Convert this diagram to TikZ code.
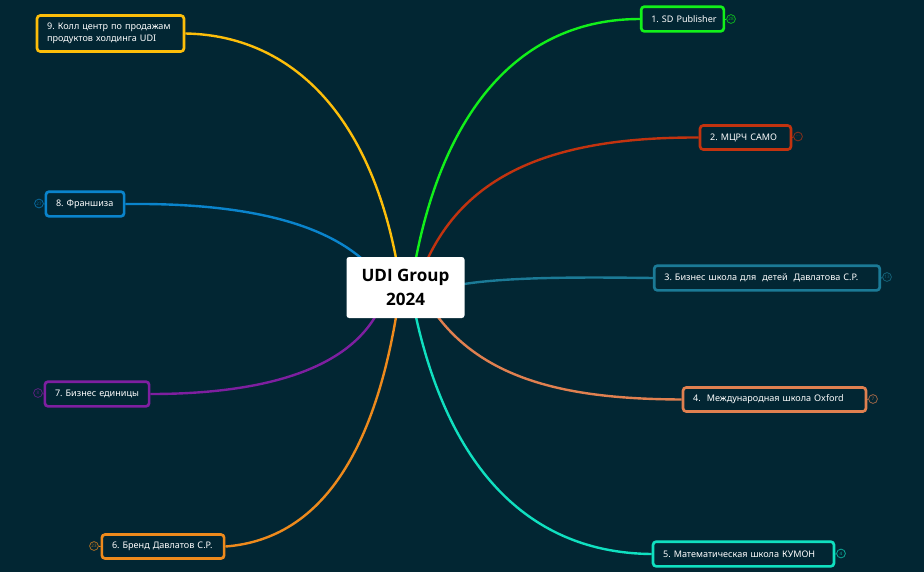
\documentclass[tikz,border=0pt]{standalone}
\usepackage{fontspec}
\setmainfont{Noto Sans}
\newfontfamily\rootfont{Open Sans}
\frenchspacing
\definecolor{bg}{HTML}{022633}
\definecolor{cA}{HTML}{12F01A}
\definecolor{cB}{HTML}{C2330F}
\definecolor{cC}{HTML}{1B7A96}
\definecolor{cD}{HTML}{E08050}
\definecolor{cE}{HTML}{10E0C0}
\definecolor{cF}{HTML}{EE8A1C}
\definecolor{cG}{HTML}{7E1FA0}
\definecolor{cH}{HTML}{0A84CC}
\definecolor{cI}{HTML}{FDBE0A}
\tikzset{
  branch/.style={draw=#1,line width=2pt,rounded corners=2.4pt,fill=bg,text=white,font=\fontsize{6.8}{9.4}\selectfont\frenchspacing,inner xsep=7.6pt,inner ysep=0pt,align=left,anchor=center},
  link/.style={draw=#1,line width=1.8pt},
  badge/.style={draw=#1!70!bg,circle,line width=0.6pt,minimum size=6.6pt,inner sep=0pt,text=#1!70!bg,font=\fontsize{3.4}{3.4}\selectfont},
  stub/.style={draw=#1,line width=0.7pt},
  rootbox/.style={fill=white,rounded corners=2pt,minimum width=88.5pt,minimum height=45.75pt,inner sep=0pt,align=center,text=black,font=\rootfont\fontsize{12.8}{18}\selectfont\bfseries}
}
\begin{document}
\begin{tikzpicture}[x=0.75pt,y=-0.75pt]
\fill[bg] (0,0) rectangle (924,572);
\useasboundingbox (0,0) rectangle (924,572);
% nodes
\node[branch=cA,text width=46.8pt,minimum height=18.5pt] (n1) at (682.5,19) {\mbox{1. SD Publisher}};
\node[branch=cB,text width=53pt,minimum height=18pt] (n2) at (745.5,137.5) {\mbox{2. МЦРЧ САМО}};
\node[branch=cC,text width=154pt,minimum height=18.5pt] (n3) at (767,278) {\mbox{3. Бизнес школа для\ \ детей\ \ Давлатова С.Р.}};
\node[branch=cD,text width=122pt,minimum height=18pt] (n4) at (774.5,399.5) {\mbox{4.\ \ Международная школа Oxford}};
\node[branch=cE,text width=120.5pt,minimum height=18.5pt] (n5) at (743.5,554) {\mbox{5. Математическая школа КУМОН}};
\node[branch=cF,text width=76.5pt,minimum height=18pt] (n6) at (163,546.5) {\mbox{6. Бренд Давлатов С.Р.}};
\node[branch=cG,text width=63pt,minimum height=18.5pt] (n7) at (97,394) {\mbox{7. Бизнес единицы}};
\node[branch=cH,text width=43.5pt,minimum height=18.5pt] (n8) at (85,204) {\mbox{8. Франшиза}};
\node[branch=cI,text width=95pt,minimum height=27pt] (n9) at (110.5,33.5) {\mbox{9. Колл центр по продажам}\\\mbox{продуктов холдинга UDI}};
% badges
\node[badge=cA] (b1) at (731,19) {28};
\node[badge=cB] (b2) at (798,136.5) {...};
\node[badge=cC] (b3) at (887,277) {13};
\node[badge=cD] (b4) at (873,399) {7};
\node[badge=cE] (b5) at (841,553.5) {4};
\node[badge=cF] (b6) at (94,546) {23};
\node[badge=cG] (b7) at (38,393) {8};
\node[badge=cH] (b8) at (39,203.5) {27};
% root anchor points
\coordinate (r1) at (416,258);
\coordinate (r2) at (428,258);
\coordinate (r3) at (464,284);
\coordinate (r4) at (438,317);
\coordinate (r5) at (416,317);
\coordinate (r6) at (396,317);
\coordinate (r7) at (375,317);
\coordinate (r8) at (361,258);
\coordinate (r9) at (396,258);
% connectors
\draw[link=cA] (r1) .. controls (445,110) and (520,19) .. (n1.west);
\draw[link=cB] (r2) .. controls (470,170) and (560,137) .. (n2.west);
\draw[link=cC] (r3) .. controls (510,277) and (580,277) .. (n3.west);
\draw[link=cD] (r4) .. controls (490,385) and (580,399) .. (n4.west);
\draw[link=cE] (r5) .. controls (450,470) and (530,553) .. (n5.west);
\draw[link=cF] (r6) .. controls (370,470) and (310,540) .. (n6.east);
\draw[link=cG] (r7) .. controls (340,375) and (250,394) .. (n7.east);
\draw[link=cH] (r8) .. controls (310,215) and (220,203) .. (n8.east);
\draw[link=cI] (r9) .. controls (365,100) and (280,35) .. (n9.east);
\draw[stub=cA] (n1.east) -- (b1);
\draw[stub=cB] (n2.east) -- (b2);
\draw[stub=cC] (n3.east) -- (b3);
\draw[stub=cD] (n4.east) -- (b4);
\draw[stub=cE] (n5.east) -- (b5);
\draw[stub=cF] (n6.west) -- (b6);
\draw[stub=cG] (n7.west) -- (b7);
\draw[stub=cH] (n8.west) -- (b8);
\node[rootbox] (root) at (405.5,287.5) {UDI Group\\2024};
\end{tikzpicture}
\end{document}
